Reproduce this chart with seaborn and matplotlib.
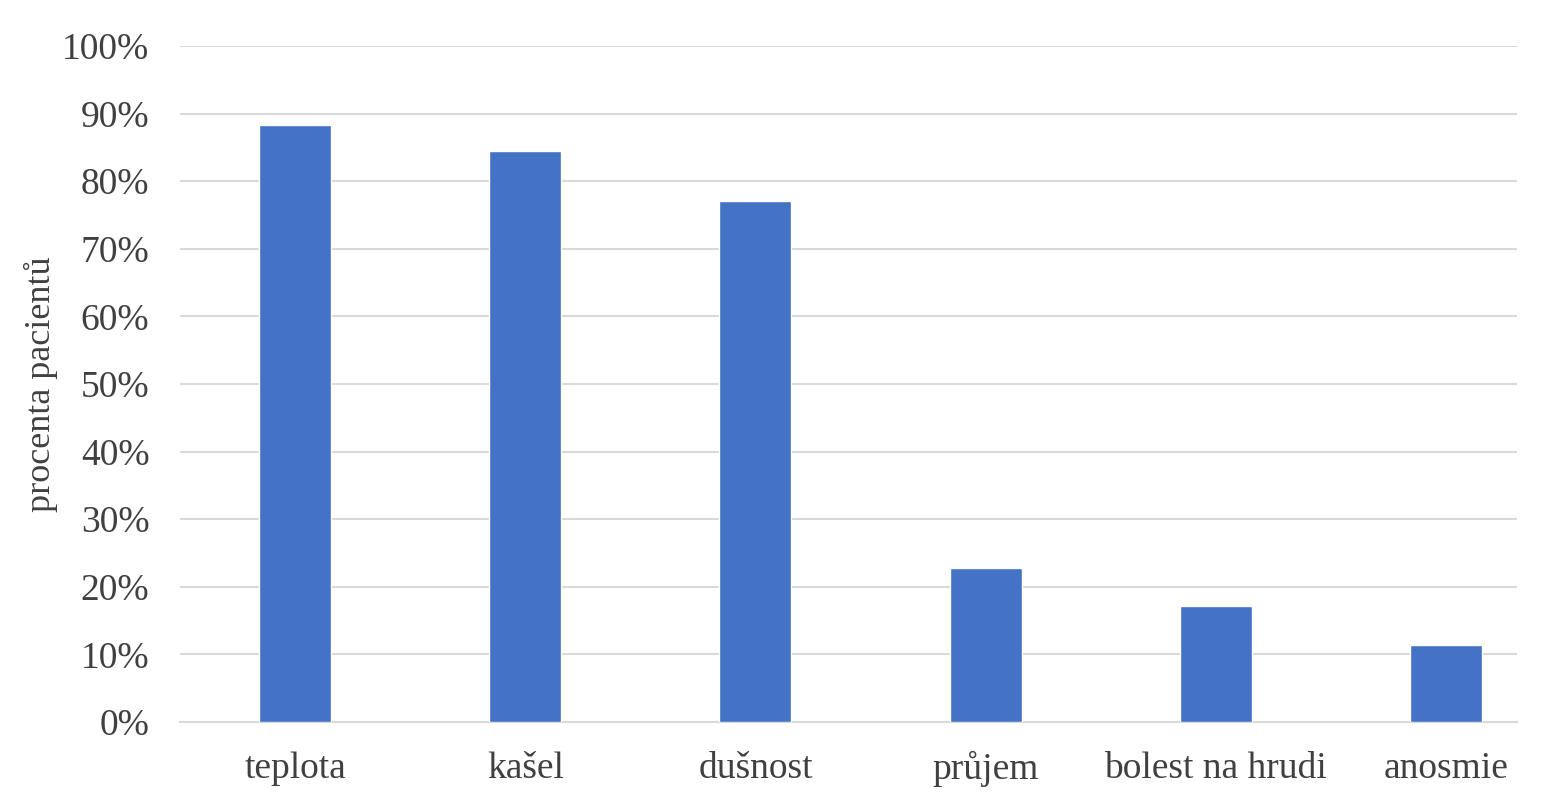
import pandas as pd
import matplotlib.pyplot as plt
import seaborn as sns
from matplotlib.ticker import PercentFormatter

symptoms = ["teplota", "kašel", "dušnost", "průjem", "bolest na hrudi", "anosmie"]
shares = [0.883, 0.845, 0.771, 0.228, 0.172, 0.114]


def main():
	'''Bar chart of the share of patients with each symptom.'''
	sns.set_theme(style="white")
	plt.rcParams["font.family"] = ["Liberation Serif", "DejaVu Serif"]
	df = pd.DataFrame({"symptom": symptoms, "share": shares})

	fig = plt.figure(figsize=(15.45, 8), dpi=100)
	ax = fig.add_axes([0.1165, 0.0975, 0.8655, 0.845])
	sns.barplot(x="symptom", y="share", data=df, color="#4472C4", saturation=1,
		width=0.313, ax=ax, zorder=3)

	ax.set_xlim(-0.5, 5.31)
	ax.set_ylim(0, 1)
	ax.set_yticks([i / 10 for i in range(11)])
	ax.yaxis.set_major_formatter(PercentFormatter(1.0, decimals=0))
	ax.grid(axis="y", color="#d9d9d9", linewidth=1.5, zorder=0)
	for s in ["top", "right", "left"]:
		ax.spines[s].set_visible(False)
	ax.spines["bottom"].set_color("#d9d9d9")
	ax.spines["bottom"].set_linewidth(1.5)
	ax.tick_params(axis="both", labelsize=27, colors="#404040", length=0)
	ax.tick_params(axis="y", pad=22)
	ax.tick_params(axis="x", pad=21)
	ax.set_xlabel("")
	ax.set_ylabel("procenta pacientů", fontsize=26, color="#404040", labelpad=3)

	fig.savefig("out.png")


if __name__ == "__main__":
	main()
